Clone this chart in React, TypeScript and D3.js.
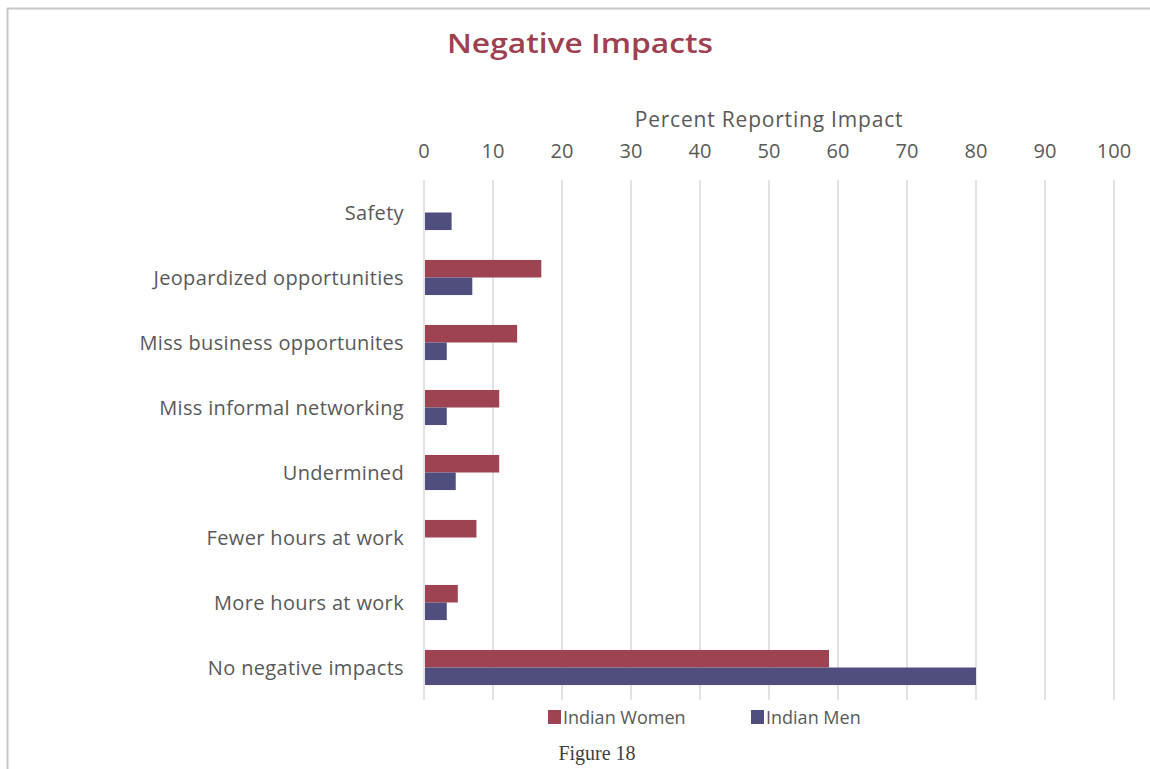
import * as React from 'react';
import * as d3 from 'd3';

const width = 1150;
const height = 769;

const categories = [
  'Safety',
  'Jeopardized opportunities',
  'Miss business opportunites',
  'Miss informal networking',
  'Undermined',
  'Fewer hours at work',
  'More hours at work',
  'No negative impacts',
];
const womenValues = [0, 17, 13.5, 10.9, 10.9, 7.6, 4.9, 58.7];
const menValues = [4, 7, 3.3, 3.3, 4.6, 0, 3.3, 80];
const seriesNames = ['Indian Women', 'Indian Men'];
const seriesColors = ['#9e4351', '#504e7e'];
const xTicks = [0, 10, 20, 30, 40, 50, 60, 70, 80, 90, 100];

const font = '"Open Sans", sans-serif';
const textColor = '#595959';

const margin = {top: 180, right: 36, bottom: 69, left: 424};

export default function App() {
  const x = d3.scaleLinear()
    .domain([0, 100])
    .range([margin.left, width - margin.right]);

  const y = d3.scaleBand<string>()
    .domain(categories)
    .range([margin.top, height - margin.bottom])
    .paddingInner(0.46)
    .paddingOuter(0.23);

  const inner = d3.scaleBand<string>()
    .domain(seriesNames)
    .range([0, y.bandwidth()]);

  const series = [womenValues, menValues];

  return (
    <svg
      width={width}
      height={height}
      style={{position: 'absolute', left: 0, top: 0, display: 'block', background: '#fff'}}
    >
      {/* frame */}
      <line x1={7.5} x2={7.5} y1={8} y2={height} stroke="#c8c8c8" strokeWidth={2} />
      <line x1={7} x2={width} y1={8.5} y2={8.5} stroke="#c8c8c8" strokeWidth={2} />

      <text x={447} y={53} textLength={266} lengthAdjust="spacingAndGlyphs"
        fontFamily={font} fontSize={27} fontWeight={600} fill="#9e4050">
        Negative Impacts
      </text>

      <text x={(x(0) + x(100)) / 2} y={127} textAnchor="middle" fontFamily={font} fontSize={21}
        letterSpacing={0.8} fill={textColor}>
        Percent Reporting Impact
      </text>

      {xTicks.map(t => (
        <g key={t}>
          <line x1={x(t)} x2={x(t)} y1={margin.top} y2={height - margin.bottom} stroke="#d9d9d9" strokeWidth={1.5} />
          <text x={x(t)} y={158} textAnchor="middle" fontFamily={font} fontSize={20} fill={textColor}>{t}</text>
        </g>
      ))}

      {categories.map((c, i) => (
        <g key={c}>
          {series.map((vals, s) => vals[i] > 0 && (
            <rect
              key={s}
              x={x(0) + 1}
              y={(y(c) ?? 0) + (inner(seriesNames[s]) ?? 0)}
              width={x(vals[i]) - x(0) - 1}
              height={inner.bandwidth()}
              fill={seriesColors[s]}
            />
          ))}
          <text
            x={404}
            y={(y(c) ?? 0) + y.bandwidth() / 2}
            dy="0.35em"
            textAnchor="end"
            fontFamily={font}
            fontSize={20}
            letterSpacing={0.35}
            fill={textColor}
          >
            {c}
          </text>
        </g>
      ))}

      {seriesNames.map((name, s) => {
        const lx = s === 0 ? 548 : 751;
        return (
          <g key={name}>
            <rect x={lx} y={710} width={13} height={14} fill={seriesColors[s]} />
            <text x={lx + 15} y={724} fontFamily={font} fontSize={18} fill={textColor}>{name}</text>
          </g>
        );
      })}

      <text x={597} y={760} textAnchor="middle" fontFamily='"Liberation Serif", serif' fontSize={20} fill="#404040">
        Figure 18
      </text>
    </svg>
  );
}
